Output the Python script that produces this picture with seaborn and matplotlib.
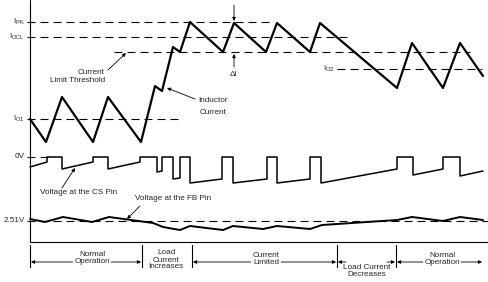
import matplotlib
matplotlib.use("Agg")
import matplotlib.pyplot as plt
import seaborn as sns
import pandas as pd

sns.set_style("white")
plt.rcParams['font.family'] = ['Liberation Sans', 'DejaVu Sans']
plt.rcParams['mathtext.fontset'] = 'custom'
plt.rcParams['mathtext.rm'] = 'Liberation Sans'
plt.rcParams['mathtext.it'] = 'Liberation Sans'

# ---- waveform data (time axis, signal level in diagram units; larger = lower on page) ----
il_t = [30, 46, 62, 93, 108, 141, 155, 162, 173, 180, 190, 223, 234, 266, 277, 310, 320, 397, 412, 443, 460, 483]
il_v = [119, 142, 97, 142, 97, 142, 86, 91, 47, 52, 22, 52, 23, 52, 23, 52, 23, 88, 43, 88, 43, 76]

cs_t = [30, 47, 47, 62, 62, 93, 93, 108, 108, 140, 140, 157, 157, 162, 162, 173, 173, 180, 180, 190, 190,
        222, 222, 233, 233, 267, 267, 277, 277, 310, 310, 321, 321, 397, 397, 413, 413, 443, 443, 460, 460, 483]
cs_v = [167, 162, 157, 157, 169, 162, 157, 157, 169, 162, 157, 157, 172, 171, 157, 157, 179, 178, 157, 157, 183,
        179, 157, 157, 183, 179, 157, 157, 183, 179, 157, 157, 183, 169, 157, 157, 175, 169, 157, 157, 176, 171]

fb_t = [30, 45, 63, 92, 109, 153, 163, 180, 190, 223, 233, 263, 277, 310, 322, 397, 412, 443, 460, 483]
fb_v = [219, 222, 217, 222, 217, 223, 227, 230, 226, 230, 226, 229, 226, 229, 225, 220, 217, 221, 217, 220]

# reference levels: (label, level, start, end)
ref_labels = ["I$_{\\mathrm{PK}}$", "I$_{\\mathrm{OCL}}$", "", "I$_{\\mathrm{O1}}$", "I$_{\\mathrm{O2}}$", "0V", "2.51V"]
ref_levels = [22, 37, 52, 119, 69, 157, 221]
ref_start = [27, 27, 114, 27, 337, 27, 27]
ref_end = [272, 350, 470, 180, 482, 48, 489]

# operating phases along the time axis
phase_names = ["Normal\nOperation", "Load\nCurrent\nIncreases", "Current\nLimited", "Load Current\nDecreases", "Normal\nOperation"]
phase_bounds = [30, 142, 192, 337, 396, 489]

fig = plt.figure(figsize=(4.89, 2.82), dpi=100)
ax = fig.add_axes([0, 0, 1, 1])

df_il = pd.DataFrame({"t": il_t, "v": il_v})
df_cs = pd.DataFrame({"t": cs_t, "v": cs_v})
df_fb = pd.DataFrame({"t": fb_t, "v": fb_v})
sns.lineplot(data=df_il, x="t", y="v", sort=False, estimator=None, color="black", lw=1.6, ax=ax)
sns.lineplot(data=df_cs, x="t", y="v", sort=False, estimator=None, color="black", lw=1.1, ax=ax)
sns.lineplot(data=df_fb, x="t", y="v", sort=False, estimator=None, color="black", lw=1.4, ax=ax)
ax.set_xlim(0, 489)
ax.set_ylim(282, 0)
ax.axis("off")

# frame lines
ax.plot([30, 30], [0, 242], color="black", lw=0.8)
ax.plot([30, 489], [242, 242], color="black", lw=0.8)

fs = 5.9
for lab, lev, s, e in zip(ref_labels, ref_levels, ref_start, ref_end):
    ax.plot([s, e], [lev, lev], color="black", lw=0.8, linestyle=(0, (7.2, 4.5)))
    if lab:
        xl = s - 2 if s > 30 else 25
        ax.text(xl, lev, lab, ha="right", va="center", fontsize=fs)

# annotations
ap = dict(arrowstyle="-|>", color="black", lw=0.6, mutation_scale=5, shrinkA=0, shrinkB=0)
ax.text(105, 72, "Current", ha="right", va="center", fontsize=fs)
ax.text(105, 81, "Limit Threshold", ha="right", va="center", fontsize=fs)
ax.annotate("", xy=(126, 53), xytext=(108, 70), arrowprops=ap)

ax.text(198, 100, "Inductor", ha="left", va="center", fontsize=fs)
ax.text(200, 112, "Current", ha="left", va="center", fontsize=fs)
ax.annotate("", xy=(167, 88), xytext=(195, 99), arrowprops=ap)

ax.annotate("", xy=(234, 21), xytext=(234, 5), arrowprops=ap)
ax.annotate("", xy=(234, 54), xytext=(234, 67), arrowprops=ap)
ax.text(234, 74, "ΔI", ha="center", va="center", fontsize=fs)

ax.text(40, 192, "Voltage at the CS Pin", ha="left", va="center", fontsize=fs)
ax.annotate("", xy=(75, 168), xytext=(62, 188), arrowprops=ap)

ax.text(135, 198, "Voltage at the FB Pin", ha="left", va="center", fontsize=fs)
ax.annotate("", xy=(127, 219), xytext=(140, 206), arrowprops=ap)

# phases
for b in phase_bounds[:-1]:
    ax.plot([b, b], [245, 267], color="black", lw=0.8)

ap2 = dict(arrowstyle="<|-|>", color="black", lw=0.6, mutation_scale=5, shrinkA=0, shrinkB=0)
ay = 262
# Normal operation (left)
ax.annotate("", xy=(31, ay), xytext=(141, ay), arrowprops=ap2)
ax.text(92, 258, phase_names[0], ha="center", va="center", fontsize=fs, linespacing=1.0,
        bbox=dict(facecolor="white", edgecolor="none", pad=1))
# Load current increases
ax.text(166, 260, phase_names[1], ha="center", va="center", fontsize=fs, linespacing=1.0)
# Current limited
ax.annotate("", xy=(193, ay), xytext=(336, ay), arrowprops=ap2)
ax.text(266, 259, phase_names[2], ha="center", va="center", fontsize=fs, linespacing=1.0,
        bbox=dict(facecolor="white", edgecolor="none", pad=1))
# Load current decreases
ax.annotate("", xy=(338, ay), xytext=(346, ay), arrowprops=ap)
ax.annotate("", xy=(395, ay), xytext=(387, ay), arrowprops=ap)
ax.text(367, 271, phase_names[3], ha="center", va="center", fontsize=fs, linespacing=0.9)
# Normal operation (right)
ax.annotate("", xy=(397, ay), xytext=(482, ay), arrowprops=ap2)
ax.text(442, 259, phase_names[4], ha="center", va="center", fontsize=fs, linespacing=1.0,
        bbox=dict(facecolor="white", edgecolor="none", pad=1))

fig.savefig("out.png", dpi=100)
